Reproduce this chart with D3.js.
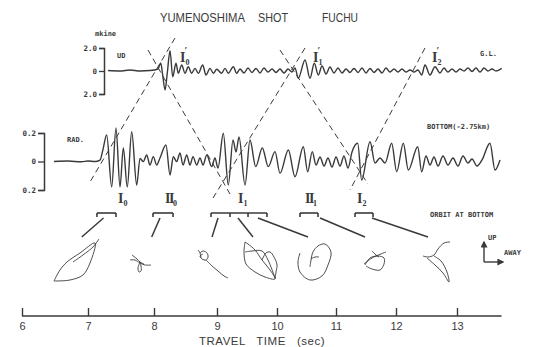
<!DOCTYPE html>
<html><head><meta charset="utf-8">
<script src="https://cdn.jsdelivr.net/npm/d3@7"></script>
<style>body{margin:0;background:#fff}svg{display:block}</style>
</head><body><svg id="c" width="535" height="347"></svg>
<script>
// ---------------- DATA ----------------
const titleWords = ["YUMENOSHIMA", "SHOT", "FUCHU"];
const timeTicks = [6, 7, 8, 9, 10, 11, 12, 13];
const udTicks = [2, 0, -2];
const radTicks = [0.2, 0, -0.2];

// Vertical (UD) velocity at ground level, mkine  [time (s), value]
const udTrace = [
 [7.303,0.04],[7.485,0],[7.636,0.09],[7.788,0],[7.939,0.04],[8.063,0.17],[8.106,0.7],[8.138,-0.35],
 [8.175,-1.65],[8.211,-0.17],[8.254,1.77],[8.297,-0.5],[8.349,0.67],[8.386,-0.2],[8.44,0.52],[8.492,-0.2],
 [8.544,0.37],[8.598,-0.2],[8.651,0.23],[8.703,-0.2],[8.773,0.52],[8.825,-0.35],[8.889,0.23],[8.941,-0.2],
 [8.995,0.15],[9.078,-0.2],[9.133,0.23],[9.188,-0.2],[9.272,0.37],[9.328,-0.2],[9.383,0.17],[9.45,-0.17],
 [9.517,0.26],[9.583,-0.13],[9.65,0.22],[9.717,-0.17],[9.783,0.26],[9.85,-0.09],[9.917,0.17],[9.983,-0.13],
 [10.051,0.17],[10.119,-0.17],[10.186,0.17],[10.254,-0.09],[10.305,0.26],[10.361,-0.63],[10.475,0.96],
 [10.559,-0.63],[10.632,0.67],[10.7,-0.35],[10.763,0.43],[10.831,-0.26],[10.898,0.35],[10.966,-0.17],
 [11.033,0.26],[11.1,-0.17],[11.167,0.17],[11.233,-0.13],[11.3,0.22],[11.367,-0.13],[11.433,0.26],
 [11.5,-0.17],[11.567,0.22],[11.633,-0.13],[11.7,0.17],[11.767,-0.17],[11.833,0.26],[11.9,-0.09],
 [11.967,0.17],[12.033,-0.09],[12.098,0.17],[12.164,-0.09],[12.23,0.09],[12.295,-0.09],[12.361,0.09],
 [12.421,-0.35],[12.475,0.52],[12.557,-0.35],[12.639,0.37],[12.721,-0.17],[12.787,0.26],[12.852,-0.09],
 [12.918,0.17],[12.984,-0.09],[13.049,0.17],[13.115,0],[13.18,0.26],[13.246,-0.04],[13.311,0.26],
 [13.377,-0.09],[13.443,0.26],[13.508,0],[13.574,0.17],[13.639,0],[13.733,0.23]
];

// Radial velocity at bottom (-2.75 km)  [time (s), value]
const radTrace = [
 [6.485,0],[6.7,0.003],[6.9,-0.002],[7.0,0.004],[7.106,0],[7.182,0.01],[7.225,0.08],[7.283,0.186],
 [7.359,-0.179],[7.424,0.235],[7.485,-0.179],[7.535,0.095],[7.595,-0.179],[7.662,0.209],[7.738,-0.165],
 [7.788,0.022],[7.838,-0.001],[7.889,0.046],[7.939,-0.025],[7.989,0.034],[8.043,-0.025],[8.095,0.025],
 [8.19,0.116],[8.254,-0.095],[8.306,0.034],[8.36,-0.001],[8.413,0.06],[8.46,-0.025],[8.519,0.046],
 [8.571,-0.025],[8.619,0.034],[8.678,-0.025],[8.73,0.025],[8.778,-0.025],[8.837,0.046],[8.916,-0.036],
 [8.968,0.025],[9.017,-0.046],[9.105,0.198],[9.188,-0.165],[9.267,0.151],[9.317,0.067],[9.367,0.172],
 [9.467,-0.165],[9.55,0.151],[9.645,-0.036],[9.755,0.095],[9.855,-0.036],[9.967,0.069],[10.051,-0.083],
 [10.192,0.081],[10.305,-0.107],[10.446,0.104],[10.52,-0.072],[10.598,0.069],[10.661,-0.025],[10.729,0.032],
 [10.797,-0.032],[10.864,0.025],[10.932,-0.039],[11.0,0.032],[11.067,-0.032],[11.133,0.039],[11.2,-0.046],
 [11.267,0.067],[11.362,0.128],[11.428,-0.13],[11.567,0.139],[11.65,-0.011],[11.733,0.025],[11.817,-0.011],
 [11.928,0.128],[12.011,-0.072],[12.12,0.128],[12.202,-0.06],[12.356,0.104],[12.421,-0.072],[12.492,0.039],
 [12.557,-0.025],[12.623,0.032],[12.689,-0.032],[12.77,0.039],[12.852,-0.025],[12.934,0.025],[13.016,-0.032],
 [13.098,0.039],[13.18,-0.011],[13.246,0.018],[13.328,-0.032],[13.41,0.011],[13.541,0.128],[13.623,-0.06],
 [13.705,0.011]
];

// phase labels
const topPhases = [{t:8.413,main:"I",sub:"0"},{t:10.61,main:"I",sub:"1"},{t:12.59,main:"I",sub:"2"}];
const bottomPhases = [{t:7.455,main:"I",sub:"0"},{t:8.175,main:"II",sub:"0"},{t:9.35,main:"I",sub:"1"},
                      {t:10.475,main:"II",sub:"1"},{t:11.35,main:"I",sub:"2"}];

// dashed travel-time lines: time at upper end, time at lower end
const phaseLineTimes = [[8.333,7.03],[7.909,9.217],[10.475,8.937],[10.051,11.533],[12.475,11.233]];

// analysis windows (time marks) and orbit links [window time, orbit time]
const windows = [[7.136,7.424],[7.985,8.302],[8.905,9.217,9.517,9.833],[10.39,10.695],[11.317,11.617]];
const links = [[7.235,6.905],[8.095,7.965],[9.017,8.921],[9.35,9.6],[9.683,10.525],[10.729,11.483],[11.6,12.525]];

// particle orbits at bottom: centre time + strokes of [away, up] displacement
const orbits = [
 {t:6.833, strokes:[
   [[-23,-19],[-17,-8],[-10,0],[3,9],[18,19],[13,-1],[6,-13],[-7,-18],[-23,-19]],
   [[-4,0],[6,7],[16,15],[22,23]] ]},
 {t:7.788, strokes:[
   [[-10,2],[-5,2],[0,-1],[5,-3],[11,-3]],
   [[-8,7],[-3,3],[0,0],[4,-2]],
   [[0,0],[-2,-6],[-1,-10],[1,-9],[1,-4],[0,0]] ]},
 {t:8.921, strokes:[
   [[-12,9],[-9,11],[-5,9],[-4,5],[-6,2],[-10,3],[-12,6],[-9,8]],
   [[-6,2],[0,-4],[6,-9],[12,-14],[16,-16]],
   [[-14,12],[-12,9],[-11,4]] ]},
 {t:9.717, strokes:[
   [[-15,20],[-16,10],[-14,-2],[-5,-10],[5,-15],[15,-17],[10,-8],[2,2],[-5,12],[-12,18],[-15,20]],
   [[-15,10],[-8,11],[2,11],[8,2],[15,-16]],
   [[2,2],[6,9],[10,10],[14,5],[17,-3],[16,-10],[15,-17]] ]},
 {t:10.627, strokes:[
   [[-14,9],[-16,0],[-14,-10],[-4,-18],[8,-14],[14,-3],[17,10],[11,18],[4,16],[-1,10],[-3,2],[-4,-5]],
   [[-3,3],[1,5],[5,5]] ]},
 {t:11.65, strokes:[
   [[-10,-3],[-5,4],[3,6],[9,4],[9,-2],[5,-8],[-3,-7],[-9,-4]],
   [[-11,-2],[-3,4],[11,10]],
   [[-3,11],[1,7],[4,5]] ]},
 {t:12.672, strokes:[
   [[13,20],[7,19],[1,13],[-3,7],[-9,5],[-14,6]],
   [[-10,4],[-2,-3],[6,-11],[12,-20],[10,-10],[4,1],[-3,6]] ]}
];

// ---------------- DRAW ----------------
const svg = d3.select("#c");
const ink = "#3a3a3a";
const x = d3.scaleLinear().domain(timeTicks).range([22,88,154,217,277,336,396,457]);
const yUD = d3.scaleLinear().domain([-2,2]).range([94,48]);
const yRAD = d3.scaleLinear().domain([-0.2,0.2]).range([190,133]);
const mono = "'DejaVu Sans Mono', monospace";
const sans = "'Liberation Sans', Arial, sans-serif";
const serif = "'Liberation Serif', 'DejaVu Serif', serif";

// title
const titleX = [160, 258, 322], titleW = [85, 30, 36];
svg.append("g").selectAll("text").data(titleWords).join("text")
  .attr("x",(d,i)=>titleX[i]).attr("y",22).attr("font-family",sans).attr("font-size",12)
  .attr("textLength",(d,i)=>titleW[i]).attr("lengthAdjust","spacingAndGlyphs")
  .attr("fill",ink).text(d=>d);

// dashed lines
const lineTop = [38,50,48,50,48], lineBot = [182,194,198,184,190];
svg.append("g").selectAll("line").data(phaseLineTimes).join("line")
  .attr("x1",d=>x(d[0])).attr("y1",(d,i)=>lineTop[i])
  .attr("x2",d=>x(d[1])).attr("y2",(d,i)=>lineBot[i])
  .attr("stroke",ink).attr("stroke-width",1).attr("stroke-dasharray","6,4");

// UD axis
const gUD = svg.append("g").attr("transform","translate(104,0)")
  .call(d3.axisLeft(yUD).tickValues(udTicks).tickSize(5).tickPadding(2)
     .tickFormat(d=>d===0?"0":d3.format(".1f")(Math.abs(d))));
gUD.select(".domain").attr("stroke",ink).attr("stroke-width",1.5);
gUD.selectAll(".tick line").attr("stroke",ink).attr("stroke-width",1.3);
gUD.selectAll("text").attr("font-family",mono).attr("font-size",7.5).attr("font-weight","bold").attr("fill",ink);

// RAD axis
const gR = svg.append("g").attr("transform","translate(44,0)")
  .call(d3.axisLeft(yRAD).tickValues(radTicks).tickSize(6).tickPadding(2)
     .tickFormat(d=>d===0?"0":d3.format(".1f")(Math.abs(d))));
gR.select(".domain").attr("stroke",ink).attr("stroke-width",1.5);
gR.selectAll(".tick line").attr("stroke",ink).attr("stroke-width",1.3);
gR.selectAll("text").attr("font-family",mono).attr("font-size",7.5).attr("font-weight","bold").attr("fill",ink);

// small typewriter labels
const small = [["mkine",95,36],["UD",117,58],["RAD.",67,142],["G.L.",480,56],
               ["BOTTOM(-2.75km)",427,129],["ORBIT AT BOTTOM",430,217],["UP",488,240],["AWAY",504,255]];
svg.append("g").selectAll("text").data(small).join("text")
  .attr("x",d=>d[1]).attr("y",d=>d[2]).text(d=>d[0])
  .attr("font-family",mono).attr("font-size",7).attr("font-weight","bold").attr("fill",ink);

// traces
const lineUD = d3.line().x(d=>x(d[0])).y(d=>yUD(d[1])).curve(d3.curveMonotoneX);
const lineR = d3.line().x(d=>x(d[0])).y(d=>yRAD(d[1])).curve(d3.curveMonotoneX);
svg.append("path").attr("d",lineUD(udTrace)).attr("fill","none").attr("stroke",ink).attr("stroke-width",1.4);
svg.append("path").attr("d",lineR(radTrace)).attr("fill","none").attr("stroke",ink).attr("stroke-width",1.4);

// phase labels
function phase(sel, data, y, prime){
  const t = sel.selectAll(null).data(data).join("text")
    .attr("x",d=>x(d.t)).attr("y",y).attr("font-family",serif).attr("font-size",14).attr("fill",ink)
    .attr("font-weight","bold");
  t.append("tspan").text(d=>d.main).attr("letter-spacing",d=>d.main==="II"?-1.5:0);
  t.append("tspan").text(d=>d.sub).attr("font-size",8).attr("dy",3);
  if(prime) t.append("tspan").text("′").attr("font-size",10).attr("dx",-5).attr("dy",-11);
}
phase(svg.append("g"), topPhases, 62, true);
phase(svg.append("g"), bottomPhases, 203, false);

// windows
const gw = svg.append("g").attr("stroke",ink).attr("stroke-width",1.6).attr("fill","none");
windows.forEach(w=>{
  gw.append("line").attr("x1",x(w[0])).attr("x2",x(w[w.length-1])).attr("y1",213).attr("y2",213);
  w.forEach(t=>gw.append("line").attr("x1",x(t)).attr("x2",x(t)).attr("y1",213).attr("y2",217));
});
svg.append("g").selectAll("line").data(links).join("line")
  .attr("x1",d=>x(d[0])).attr("y1",218).attr("x2",d=>x(d[1])).attr("y2",237)
  .attr("stroke",ink).attr("stroke-width",1.5);

// orbits
const oy = 262;
const orbitLine = d3.line().curve(d3.curveCatmullRom.alpha(0.5));
orbits.forEach(o=>{
  const cx = x(o.t);
  o.strokes.forEach(s=>{
    svg.append("path").attr("d",orbitLine(s.map(p=>[cx+p[0], oy-p[1]])))
      .attr("fill","none").attr("stroke",ink).attr("stroke-width",0.9);
  });
});

// UP / AWAY arrows
svg.append("defs").append("marker").attr("id","ah").attr("viewBox","0 0 10 10").attr("refX",8).attr("refY",5)
  .attr("markerWidth",5).attr("markerHeight",5).attr("orient","auto")
  .append("path").attr("d","M0,0L10,5L0,10z").attr("fill",ink);
svg.append("path").attr("d","M484,262V242").attr("stroke",ink).attr("stroke-width",1.4).attr("marker-end","url(#ah)");
svg.append("path").attr("d","M484,262H503").attr("stroke",ink).attr("stroke-width",1.4).attr("marker-end","url(#ah)");

// time axis
const gx = svg.append("g").attr("transform","translate(0,316)")
  .call(d3.axisTop(x).tickValues(timeTicks).tickSize(8).tickFormat(d3.format("d")));
gx.select(".domain").remove();
gx.selectAll(".tick line").attr("stroke",ink).attr("stroke-width",1.4);
gx.selectAll("text").attr("y",14).attr("dy",0).attr("font-family",sans).attr("font-size",11).attr("fill",ink);
svg.append("line").attr("x1",x(6)).attr("x2",x(13.73)).attr("y1",316).attr("y2",316)
  .attr("stroke",ink).attr("stroke-width",1.4);
svg.append("text").attr("x",262).attr("y",345).attr("text-anchor","middle").attr("font-family",sans)
  .attr("font-size",11.5).attr("fill",ink).attr("letter-spacing",0.5).style("white-space","pre")
  .text("TRAVEL   TIME   (sec)");
</script></body></html>
